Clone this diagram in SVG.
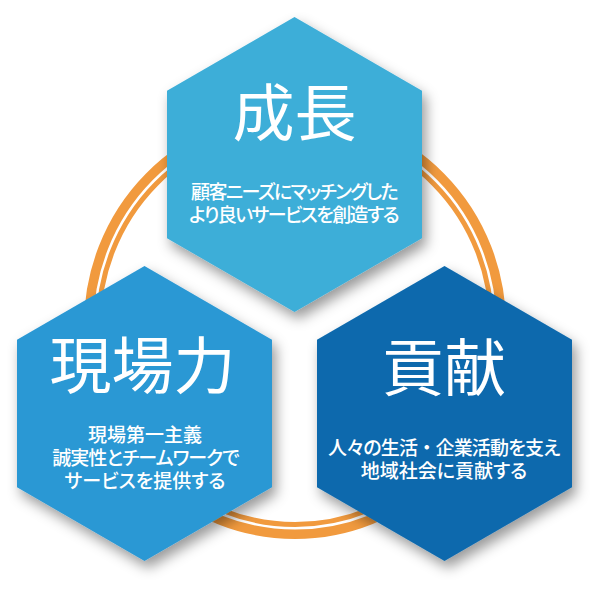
<svg xmlns="http://www.w3.org/2000/svg" width="603" height="592" viewBox="0 0 603 592">
<defs>
<filter id="sh" x="-20%" y="-20%" width="150%" height="150%">
<feDropShadow dx="4" dy="7" stdDeviation="6.5" flood-color="#000" flood-opacity="0.4"/>
</filter>
<style>
.ring{fill:none;stroke:#F19A3E}
.title{font-family:"Noto Sans CJK JP","Noto Sans",sans-serif;font-size:62px;fill:#fff;text-anchor:middle}
.sub{font-family:"Noto Sans CJK JP","Noto Sans",sans-serif;font-size:19px;font-weight:500;fill:#fff;text-anchor:middle;font-feature-settings:"palt"}
.fw{font-feature-settings:normal}
</style>
</defs>
<rect width="603" height="592" fill="#fff"/>
<g id="ring">
<ellipse class="ring" cx="295" cy="325" rx="206.25" ry="209.25" stroke-width="9.5"/>
<ellipse class="ring" cx="295" cy="325" rx="196.5" ry="199.5" stroke-width="5"/>
</g>
<g id="connectors"/>
<g id="growth">
<polygon points="294.5,17 422,90.75 422,238.25 294.5,312 167,238.25 167,90.75" fill="#3EAED8" filter="url(#sh)"/>
<text class="title" x="294.5" y="136">成長</text>
<text class="sub" x="294" y="198.5" letter-spacing="-1.6">顧客ニーズにマッチングした</text>
<text class="sub" x="293.5" y="222" letter-spacing="-1.6">より良いサービスを創造する</text>
</g>
<g id="genba">
<polygon points="144.5,266 272,339.75 272,487.25 144.5,561 17,487.25 17,339.75" fill="#2B98D4" filter="url(#sh)"/>
<text class="title" x="142.5" y="389">現場力</text>
<text class="sub" x="145" y="442">現場第一主義</text>
<text class="sub" x="145.5" y="465" letter-spacing="-1">誠実性とチームワークで</text>
<text class="sub" x="145" y="488">サービスを提供する</text>
</g>
<g id="kouken">
<polygon points="444.5,266 572,339.75 572,487.25 444.5,561 317,487.25 317,339.75" fill="#0B69AD" filter="url(#sh)"/>
<text class="title" x="444" y="390.5">貢献</text>
<text class="sub" x="443.8" y="455" letter-spacing="-0.8">人々の生活<tspan class="fw">・</tspan>企業活動を支え</text>
<text class="sub" x="444" y="478">地域社会に貢献する</text>
</g>
</svg>
